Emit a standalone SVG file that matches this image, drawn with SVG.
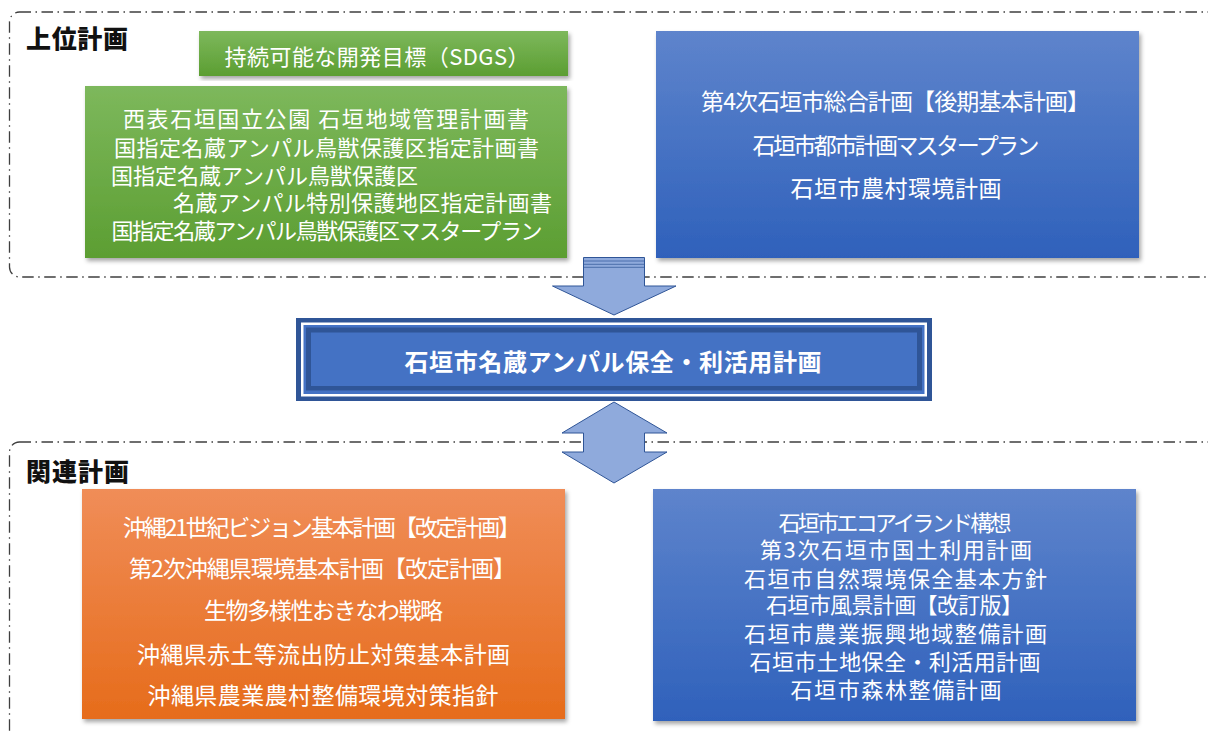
<svg xmlns="http://www.w3.org/2000/svg" width="1208" height="733" viewBox="0 0 1208 733">
<defs>
<linearGradient id="gGreen" x1="0" y1="0" x2="0" y2="1"><stop offset="0" stop-color="#7DB85C"/><stop offset="1" stop-color="#5C9E32"/></linearGradient>
<linearGradient id="gBlue" x1="0" y1="0" x2="0" y2="1"><stop offset="0" stop-color="#5E84CC"/><stop offset="1" stop-color="#2F61BB"/></linearGradient>
<linearGradient id="gOrange" x1="0" y1="0" x2="0" y2="1"><stop offset="0" stop-color="#F08D58"/><stop offset="1" stop-color="#E66C1B"/></linearGradient>
<filter id="shadow" x="-5%" y="-5%" width="110%" height="115%"><feDropShadow dx="2" dy="3" stdDeviation="2" flood-color="#000" flood-opacity="0.35"/></filter>
</defs>
<style>
.frame{fill:none;stroke:#3F3F3F;stroke-width:1.3;stroke-dasharray:11.5 4.5 1.5 4.5}
.arrow{fill:#8FAADC;stroke:#2F5597;stroke-width:1}
.t{font-family:"Noto Sans CJK JP","Noto Sans",sans-serif;fill:#FFFFFF;text-anchor:middle;dominant-baseline:central}
.g{font-size:22px}
.b{font-size:23px}
.s{font-size:22px}
.h{font-family:"Noto Sans CJK JP","Noto Sans",sans-serif;font-weight:900;font-size:25px;fill:#111111;dominant-baseline:central}
.c{font-size:24px;font-weight:bold}
</style>

<g id="containers">
<rect id="upper-frame" class="frame" x="9.5" y="12" width="1220" height="265" rx="10"/>
<rect id="related-frame" class="frame" x="9.5" y="442" width="1220" height="300" rx="10"/>
</g>

<g id="connectors">
<path class="arrow" d="M583.5 257.5 H644.5 V286 H676 L614 315 L552.5 286 H583.5 Z"/>
<g stroke="#2F5597" stroke-width="1" opacity="0.7">
<line x1="583.5" y1="261" x2="644.5" y2="261"/>
<line x1="583.5" y1="264.3" x2="644.5" y2="264.3"/>
<line x1="583.5" y1="267.3" x2="644.5" y2="267.3"/>
</g>
<path class="arrow" d="M614 402 L667 433 H644.5 V452 H667 L614 483 L562 452 H583.5 V433 H562 Z"/>
</g>

<g id="label-upper"><text class="h" x="26" y="37" textLength="102">上位計画</text></g>
<g id="label-related"><text class="h" x="26" y="470" textLength="103">関連計画</text></g>

<g id="sdgs">
<rect x="199" y="31" width="369" height="45" fill="url(#gGreen)" filter="url(#shadow)"/>
<text class="t g" x="377" y="54.5" textLength="305">持続可能な開発目標（SDGS）</text>
</g>

<g id="national-park">
<rect x="85" y="86" width="482" height="172" fill="url(#gGreen)" filter="url(#shadow)"/>
<text class="t g" x="326" y="117" textLength="406">西表石垣国立公園 石垣地域管理計画書</text>
<text class="t g" x="326.5" y="145.5" textLength="425">国指定名蔵アンパル鳥獣保護区指定計画書</text>
<text class="t g" x="111" y="173.5" textLength="307" style="text-anchor:start">国指定名蔵アンパル鳥獣保護区</text>
<text class="t g" x="552" y="201" textLength="379" style="text-anchor:end">名蔵アンパル特別保護地区指定計画書</text>
<text class="t g" x="327" y="229" textLength="431">国指定名蔵アンパル鳥獣保護区マスタープラン</text>
</g>

<g id="city-plans">
<rect x="656" y="31" width="483" height="227" fill="url(#gBlue)" filter="url(#shadow)"/>
<text class="t b" x="895.5" y="100" textLength="389">第4次石垣市総合計画【後期基本計画】</text>
<text class="t b" x="896" y="144" textLength="287">石垣市都市計画マスタープラン</text>
<text class="t b" x="896" y="187" textLength="211">石垣市農村環境計画</text>
</g>

<g id="main-plan">
<rect x="296" y="318" width="636" height="83" fill="#2F5597"/>
<rect x="301" y="322.5" width="626" height="74" fill="#FFFFFF"/>
<rect x="303.5" y="325" width="621" height="69" fill="#4472C4"/>
<rect x="306" y="327.5" width="616" height="63" fill="#2F5597"/>
<rect x="311" y="332.5" width="606" height="53.5" fill="#4472C4"/>
<text class="t c" x="613" y="360" textLength="417">石垣市名蔵アンパル保全・利活用計画</text>
</g>

<g id="okinawa-plans">
<rect x="82" y="489" width="483" height="230" fill="url(#gOrange)" filter="url(#shadow)"/>
<text class="t b" x="322" y="526" textLength="398">沖縄21世紀ビジョン基本計画【改定計画】</text>
<text class="t b" x="322.5" y="567" textLength="387">第2次沖縄県環境基本計画【改定計画】</text>
<text class="t b" x="323.5" y="609" textLength="239">生物多様性おきなわ戦略</text>
<text class="t b" x="323.5" y="653" textLength="373">沖縄県赤土等流出防止対策基本計画</text>
<text class="t b" x="323" y="694" textLength="351">沖縄県農業農村整備環境対策指針</text>
</g>

<g id="city-related">
<rect x="653" y="489" width="483" height="232" fill="url(#gBlue)" filter="url(#shadow)"/>
<text class="t s" x="895" y="521" textLength="233">石垣市エコアイランド構想</text>
<text class="t s" x="896" y="548" textLength="272">第3次石垣市国土利用計画</text>
<text class="t s" x="895.5" y="577" textLength="303">石垣市自然環境保全基本方針</text>
<text class="t s" x="894.5" y="603" textLength="257">石垣市風景計画【改訂版】</text>
<text class="t s" x="895.5" y="632" textLength="303">石垣市農業振興地域整備計画</text>
<text class="t s" x="895" y="660" textLength="291">石垣市土地保全・利活用計画</text>
<text class="t s" x="896" y="688" textLength="211">石垣市森林整備計画</text>
</g>
</svg>
